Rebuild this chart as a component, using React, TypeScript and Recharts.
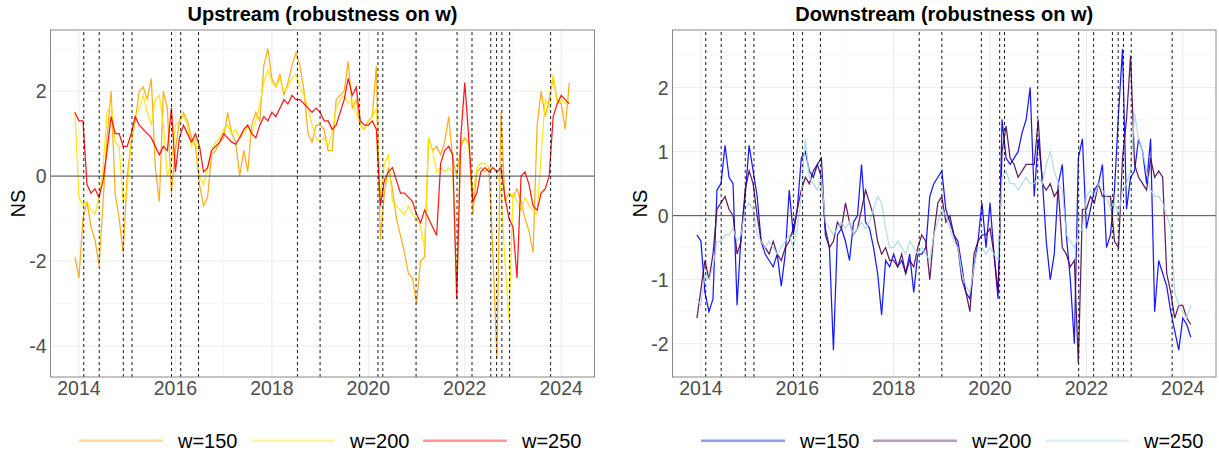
import React from 'react';
import { LineChart, Line, XAxis, YAxis, ReferenceLine } from 'recharts';

// monthly observations, Dec 2013 to Mar 2024
const START = 2013 + 11 / 12;
const months = Array.from({ length: 124 }, (_, i) => +(START + i / 12).toFixed(3));

const seriesNames = ['w=150', 'w=200', 'w=250'];

// event dates drawn as dashed verticals
const breakDates = [
  2014.1, 2014.42, 2014.92, 2015.1, 2015.92, 2016.11, 2016.48, 2018.53, 2019.0, 2019.82,
  2020.2, 2020.3, 2020.99, 2021.84, 2022.15, 2022.54, 2022.66, 2022.77, 2022.93, 2023.78,
];

// Upstream, one value per month
const up150 = [
  -1.9,
  -2.4, -1.0, -0.6, -1.2, -1.5, -2.1, -0.6, 0.9, 2.0, -0.4, -1.0, -1.8,
  0.0, 0.8, 1.3, 2.0, 2.1, 1.8, 2.3, 0.2, -0.6, 2.0, 1.6, -0.4,
  0.6, 1.3, 1.5, 1.3, 0.9, 0.7, -0.2, -0.7, -0.5, 0.5, 0.6, 0.8,
  0.9, 1.5, 1.0, 0.8, 0.0, 0.6, 0.1, 1.2, 1.5, 1.3, 2.6, 3.0,
  2.3, 2.1, 2.4, 1.9, 2.2, 2.6, 2.9, 2.6, 2.0, 1.0, 0.8, 1.2,
  1.2, 1.1, 0.6, 0.6, 1.8, 1.9, 2.0, 2.7, 1.6, 1.8, 1.2, 1.1,
  1.3, 1.4, 2.6, -1.5, -0.4, 0.2, -0.3, -1.0, -1.4, -1.8, -2.3, -2.4,
  -3.0, -2.0, -1.9, 0.9, 0.6, 0.7, 0.5, 0.8, 1.4, 0.4, 0.0, 0.7,
  0.9, 0.8, -0.9, 0.1, 0.2, 0.1, 0.2, -1.8, -4.3, 1.5, -0.6, -0.4,
  -0.5, -0.3, -0.6, -1.0, -1.3, -1.8, 1.2, 2.0, 1.4, 1.8, 2.3, 1.8,
  1.7, 1.1, 2.2,
];
const up200 = [
  1.5,
  -0.5, -0.7, -0.6, -0.8, -0.9, -0.5, 0.2, 1.5, 1.7, 0.8, 0.7, -0.6,
  -0.3, 0.8, 1.4, 1.6, 1.9, 1.5, 1.2, 1.8, 1.9, 1.2, 0.0, 0.3,
  1.2, 1.3, 1.4, 1.2, 0.7, 0.9, 0.0, -0.2, 0.2, 0.6, 0.8, 0.9,
  1.1, 1.2, 1.0, 1.1, 0.9, 1.0, 1.2, 1.0, 1.3, 1.7, 2.2, 2.5,
  2.2, 2.1, 2.3, 2.0, 2.1, 2.3, 2.4, 2.1, 1.9, 1.6, 1.2, 0.9,
  0.8, 0.9, 0.7, 1.0, 1.6, 1.8, 1.9, 1.7, 1.8, 1.5, 1.2, 1.1,
  1.3, 1.4, 1.6, -0.5, 0.3, 0.5, -0.6, -0.7, -0.8, -0.9, -0.7, -0.9,
  -1.0, -1.2, -1.7, 0.9, 0.6, 0.1, 0.2, 0.1, 0.2, 0.1, -2.5, 0.8,
  0.9, 0.7, -0.5, 0.2, 0.3, 0.3, 0.2, 0.2, 0.1, -0.3, -2.0, -3.4,
  -0.4, -0.6, -0.8, -0.5, -0.7, -0.8, -0.9, 0.5, 1.8, 1.6, 2.4, 1.7,
  1.8, 1.7, 1.8,
];
const up250 = [
  1.5,
  1.3, 1.3, -0.2, -0.4, -0.3, -0.5, -0.1, 0.6, 1.4, 1.0, 1.0, 0.7,
  0.7, 1.0, 1.4, 1.2, 1.1, 1.0, 0.9, 0.7, 0.5, 0.7, 0.6, 1.6,
  0.1, 0.9, 1.2, 1.0, 0.8, 1.0, 0.7, 0.1, 0.2, 0.6, 0.7, 0.8,
  1.0, 0.9, 0.8, 0.75, 0.9, 1.1, 1.2, 1.0, 0.9, 1.2, 1.4, 1.3,
  1.5, 1.4, 1.6, 1.8, 1.7, 1.9, 1.8, 1.8, 1.7, 1.6, 1.5, 1.6,
  1.5, 1.3, 1.3, 1.1, 1.2, 1.5, 1.8, 2.3, 1.9, 2.1, 1.3, 1.2,
  1.2, 1.3, 1.1, -0.7, -0.1, 0.1, 0.2, -0.1, -0.4, -0.4, -0.5, -0.6,
  -0.9, -1.1, -0.8, -1.0, -1.2, -1.4, 0.3, 0.6, 0.7, 0.5, -2.9, 0.9,
  2.2, 0.9, -0.6, -0.4, 0.1, 0.2, 0.1, 0.2, 0.1, 0.2, -0.5, -1.0,
  -1.2, -2.4, 0.0, 0.1, -0.2, -0.7, -0.8, -0.4, -0.3, 0.0, 1.4, 1.7,
  1.9, 1.8, 1.7,
];

// Downstream, one value per month
const down150 = [
  -0.3,
  -0.4, -1.2, -1.5, -1.3, 0.4, 0.5, 1.1, 0.6, 0.5, -1.4, -0.3, 0.3,
  1.1, 0.7, 0.3, -0.4, -0.6, -0.7, -0.8, -0.6, -1.1, -0.6, 0.4, -0.3,
  0.1, 0.9, 1.0, 0.7, 0.6, 0.8, 0.9, -0.3, -0.5, -2.1, -0.3, -0.2,
  -0.4, -0.7, -0.1, 0.0, 0.8, -0.1, -0.2, -0.5, -0.9, -1.55, -0.7, -0.8,
  -0.6, -0.8, -0.7, -0.9, -0.6, -1.2, -0.6, -0.6, -0.5, 0.3, 0.5, 0.6,
  0.7, 0.1, -0.1, -0.3, -0.4, -0.8, -1.2, -1.3, -0.8, -0.4, 0.2, -0.5,
  0.2, -0.6, -1.3, 1.5, 0.9, 0.8, 0.9, 1.0, 1.3, 1.5, 2.0, 0.3,
  1.2, 0.6, -0.4, -1.0, -0.6, 0.5, 0.8, -0.3, -1.0, -2.0, 0.9, 1.2,
  -0.2, 0.1, 0.4, 0.5, 0.8, -0.5, -0.3, 0.4, 1.6, 2.6, 0.1, 0.6,
  0.7, 1.2, 1.0, 0.5, 1.2, -1.5, -0.7, -0.9, -1.1, -1.5, -1.8, -2.1,
  -1.6, -1.7, -1.9,
];
const down200 = [
  -1.6,
  -1.15, -0.7, -1.0, -0.6, 0.1, 0.2, 0.3, 0.1, 0.0, -0.6, -0.4, 0.4,
  0.7, 0.5, 0.0, -0.4, -0.5, -0.6, -0.4, -0.6, -0.7, -0.5, -0.4, -0.2,
  0.1, 0.4, 0.6, 0.5, 0.7, 0.8, 0.6, -0.2, -0.5, -0.4, -0.1, -0.2,
  0.2, -0.1, -0.3, -0.2, 0.1, 0.4, 0.2, 0.0, -0.4, -0.6, -0.5, -0.7,
  -0.7, -0.8, -0.6, -0.9, -0.7, -0.8, -0.5, -0.3, -0.4, -1.0, -0.3, 0.2,
  0.3, -0.1, 0.0, -0.3, -0.5, -1.0, -1.2, -1.5, -0.6, -0.4, -0.3, -0.3,
  -0.2, -0.6, -1.2, 1.0, 1.4, 0.9, 0.8, 0.6, 0.7, 0.8, 0.8, 0.8,
  1.5, 0.5, 0.4, 0.5, 0.3, 0.4, -0.5, -0.6, -0.8, -0.7, -2.3, 0.1,
  0.1, 0.3, 0.2, 0.5, 0.3, 0.3, 0.3, -0.4, -0.5, 0.9, 1.5, 2.5,
  0.8, 0.6, 0.5, 0.4, 0.9, 0.6, 0.7, 0.6, -0.9, -1.2, -1.6, -1.4,
  -1.4, -1.6, -1.7,
];
const down250 = [
  -1.3,
  -1.4, -0.9, -1.0, -0.8, -0.4, -0.4, -0.3, -0.3, -0.2, -0.4, -0.3, 0.1,
  0.2, 0.1, -0.3, -0.4, -0.5, -0.4, -0.5, -0.6, -0.5, -0.4, -0.3, -0.5,
  -0.2, 0.3, 1.2, 0.6, 0.5, 0.4, 0.6, -0.1, -0.2, -0.3, -0.2, -0.1,
  -0.2, -0.1, -0.3, -0.2, -0.1, -0.2, -0.1, 0.1, 0.3, 0.2, -0.2, -0.5,
  -0.5, -0.4, -0.5, -0.6, -0.4, -0.5, -0.6, -0.5, -0.6, -0.7, -0.3, -0.1,
  0.1, 0.0, -0.2, -0.4, -0.5, -0.9, -1.1, -1.2, -0.8, -0.5, -0.5, -0.6,
  -0.5, -0.6, -0.7, 0.6, 0.7, 0.5, 0.5, 0.4, 0.5, 0.6, 0.5, 0.5,
  0.6, 0.5, 0.8, 1.0, 0.7, 0.5, 0.4, -0.3, -0.4, -0.5, -0.3, -0.2,
  0.3, 0.4, 0.3, 0.5, 0.4, 0.3, 0.1, 0.2, 0.0, 0.4, 0.5, 0.7,
  1.6, 1.2, 1.0, 0.7, 0.4, 0.3, 0.3, 0.2, 0.0, -0.2, -1.2, -1.4,
  -1.5, -1.6, -1.4,
];

const upColors = ['#FFA500', '#FFE600', '#FF0000'];
const downColors = ['#0000FF', '#4E0650', '#ADD8E6'];

const FONT = '"Liberation Sans", Arial, Helvetica, sans-serif';
const X_DOMAIN: [number, number] = [2013.41, 2024.69];
const yearTicks = [2014, 2016, 2018, 2020, 2022, 2024];
const minorYears = [2015, 2017, 2019, 2021, 2023];

const toRows = (a: number[], b: number[], c: number[]) =>
  months.map((t, i) => ({ t, s0: a[i], s1: b[i], s2: c[i] }));

const upRows = toRows(up150, up200, up250);
const downRows = toRows(down150, down200, down250);

type PanelProps = {
  rows: { t: number; s0: number; s1: number; s2: number }[];
  colors: string[];
  yDomain: [number, number];
  yTicks: number[];
  yMinor: number[];
  yAxisWidth: number;
  width: number;
  marginRight: number;
  left: number;
};

function Panel({ rows, colors, yDomain, yTicks, yMinor, yAxisWidth, width, marginRight, left }: PanelProps) {
  const tickStyle = { fill: '#4D4D4D', fontSize: 19.5, fontFamily: FONT };
  return (
    <div style={{ position: 'absolute', left, top: 0 }}>
      <LineChart width={width} height={400} data={rows} margin={{ top: 30, right: marginRight, bottom: 0, left: 0 }}>
        <XAxis
          dataKey="t"
          type="number"
          domain={X_DOMAIN}
          allowDataOverflow
          ticks={yearTicks}
          interval={0}
          tickFormatter={(v: number) => String(v)}
          axisLine={false}
          tickLine={false}
          tickSize={0}
          tickMargin={4}
          height={23}
          tick={tickStyle}
        />
        <YAxis
          type="number"
          domain={yDomain}
          allowDataOverflow
          ticks={yTicks}
          interval={0}
          axisLine={false}
          tickLine={false}
          tickSize={0}
          tickMargin={4}
          width={yAxisWidth}
          tick={tickStyle}
        />
        {yMinor.map((v) => (
          <ReferenceLine key={`ym${v}`} y={v} stroke="#F2F2F2" strokeWidth={0.6} />
        ))}
        {yTicks.map((v) => (
          <ReferenceLine key={`yM${v}`} y={v} stroke="#EBEBEB" strokeWidth={1} />
        ))}
        {minorYears.map((v) => (
          <ReferenceLine key={`xm${v}`} x={v} stroke="#F2F2F2" strokeWidth={0.6} />
        ))}
        {yearTicks.map((v) => (
          <ReferenceLine key={`xM${v}`} x={v} stroke="#EBEBEB" strokeWidth={1} />
        ))}
        {['s0', 's1', 's2'].map((k, i) => (
          <Line
            key={k}
            dataKey={k}
            type="linear"
            stroke={colors[i]}
            strokeOpacity={0.9}
            strokeWidth={1.25}
            dot={false}
            activeDot={false}
            isAnimationActive={false}
          />
        ))}
        <ReferenceLine y={0} stroke="#4D4D4D" strokeWidth={1} />
        {breakDates.map((d) => (
          <ReferenceLine key={`b${d}`} x={d} stroke="#000000" strokeWidth={0.9} strokeDasharray="3 3" />
        ))}
      </LineChart>
    </div>
  );
}

function Legend({ x0, colors }: { x0: number; colors: string[] }) {
  return (
    <g>
      {seriesNames.map((name, i) => {
        const kx = x0 + i * 172;
        return (
          <g key={name}>
            <line x1={kx} x2={kx + 84} y1={440.7} y2={440.7} stroke={colors[i]} strokeOpacity={0.4} strokeWidth={2.5} />
            <text x={kx + 99} y={447.5} fontSize={20} fontFamily={FONT} fill="#000">
              {name}
            </text>
          </g>
        );
      })}
    </g>
  );
}

export default function App() {
  return (
    <div style={{ position: 'absolute', left: 0, top: 0, width: 1219, height: 457, background: '#fff' }}>
      <Panel
        rows={upRows}
        colors={upColors}
        yDomain={[-4.73, 3.44]}
        yTicks={[-4, -2, 0, 2]}
        yMinor={[-3, -1, 1, 3]}
        yAxisWidth={50.5}
        width={610}
        marginRight={15.5}
        left={0}
      />
      <Panel
        rows={downRows}
        colors={downColors}
        yDomain={[-2.52, 2.9]}
        yTicks={[-2, -1, 0, 1, 2]}
        yMinor={[-1.5, -0.5, 0.5, 1.5, 2.5]}
        yAxisWidth={62.5}
        width={609}
        marginRight={3}
        left={610}
      />
      <svg width={1219} height={457} style={{ position: 'absolute', left: 0, top: 0, pointerEvents: 'none' }}>
        <rect x={50.5} y={30} width={544} height={347} fill="none" stroke="#888" strokeWidth={1} />
        <rect x={672.5} y={30} width={543.5} height={347} fill="none" stroke="#888" strokeWidth={1} />
        <text x={322.5} y={21} textAnchor="middle" fontSize={20} fontWeight="bold" fontFamily={FONT} fill="#000">
          Upstream (robustness on w)
        </text>
        <text x={944.25} y={21} textAnchor="middle" fontSize={20} fontWeight="bold" fontFamily={FONT} fill="#000">
          Downstream (robustness on w)
        </text>
        <text
          transform="translate(24.5,203.5) rotate(-90)"
          textAnchor="middle"
          fontSize={20}
          fontFamily={FONT}
          fill="#000"
        >
          NS
        </text>
        <text
          transform="translate(647,203.5) rotate(-90)"
          textAnchor="middle"
          fontSize={20}
          fontFamily={FONT}
          fill="#000"
        >
          NS
        </text>
        <Legend x0={79} colors={upColors} />
        <Legend x0={701} colors={downColors} />
      </svg>
    </div>
  );
}
